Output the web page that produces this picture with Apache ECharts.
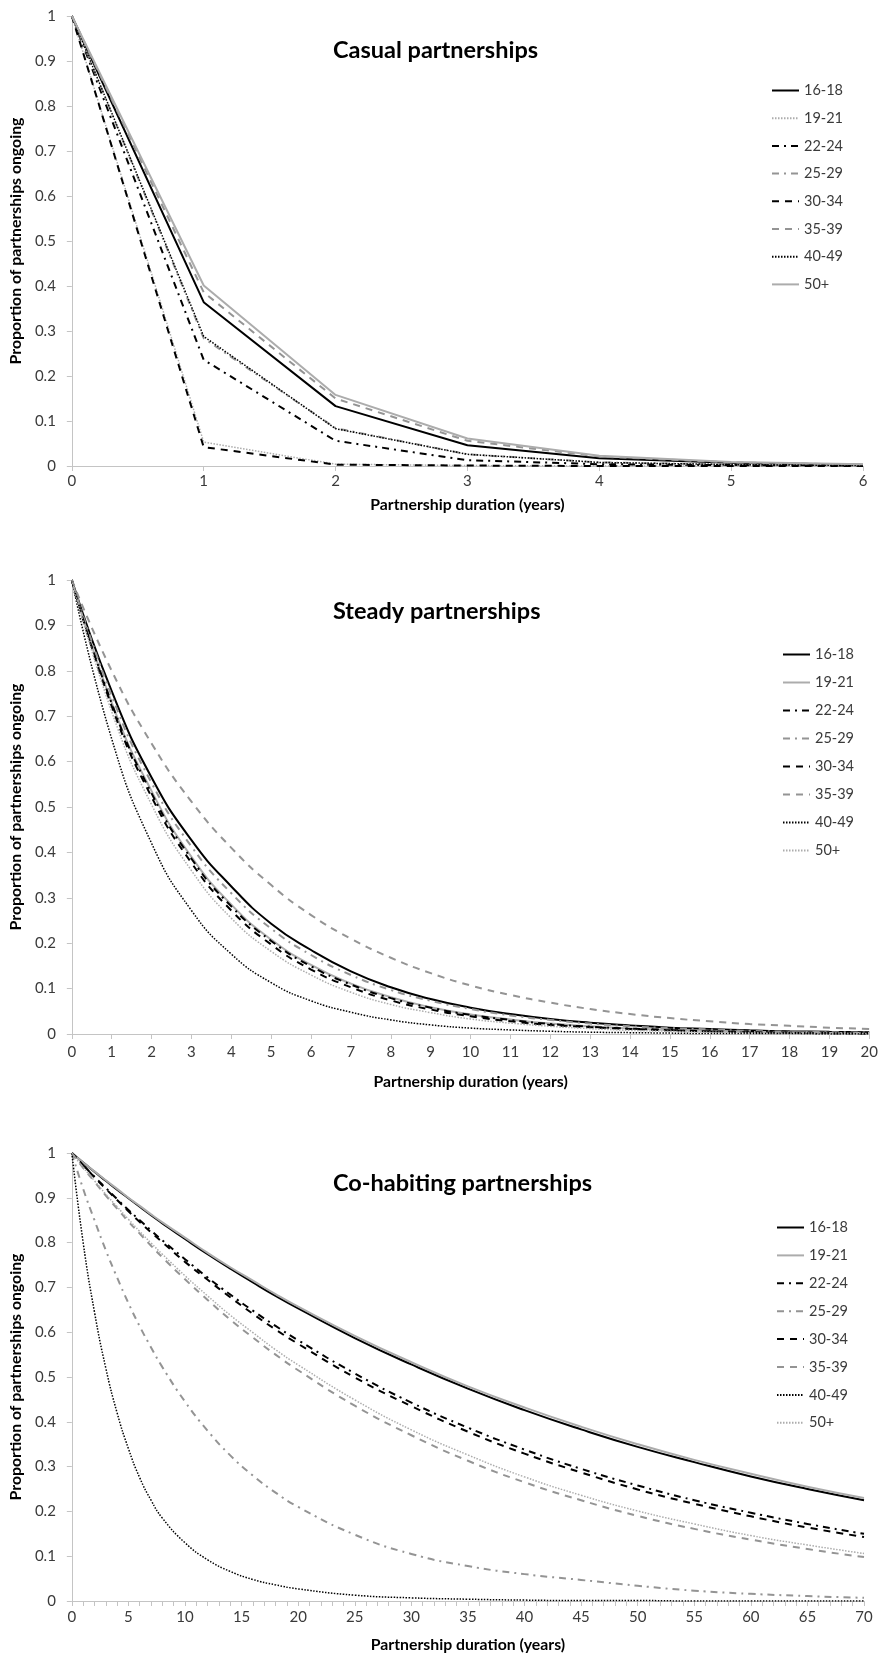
<!DOCTYPE html>
<html>
<head>
<meta charset="utf-8">
<script src="https://cdn.jsdelivr.net/npm/echarts@6/dist/echarts.min.js"></script>
<style>
  html, body { margin: 0; padding: 0; background: #ffffff; }
  #wrap { position: relative; width: 881px; height: 1665px; }
  .panel { position: absolute; left: 0; width: 881px; }
</style>
</head>
<body>
<div id="wrap">
  <div id="casual" class="panel" style="top:0;height:555px"></div>
  <div id="steady" class="panel" style="top:555px;height:575px"></div>
  <div id="cohab" class="panel" style="top:1130px;height:535px"></div>
</div>
<script>
// ---- Data -------------------------------------------------------------
const ageGroups = ['16-18', '19-21', '22-24', '25-29', '30-34', '35-39', '40-49', '50+'];

// Casual partnerships: proportion still ongoing at each whole year
const casualYears = [0, 1, 2, 3, 4, 5, 6];
const casual_16_18 = [1, 0.364, 0.133, 0.046, 0.017, 0.007, 0.003];
const casual_19_21 = [1, 0.053, 0.004, 0.001, 0, 0, 0];
const casual_22_24 = [1, 0.236, 0.056, 0.013, 0.004, 0.002, 0.001];
const casual_25_29 = [1, 0.284, 0.084, 0.026, 0.008, 0.003, 0.001];
const casual_30_34 = [1, 0.042, 0.003, 0.001, 0, 0, 0];
const casual_35_39 = [1, 0.386, 0.150, 0.056, 0.021, 0.008, 0.003];
const casual_40_49 = [1, 0.288, 0.083, 0.026, 0.008, 0.003, 0.001];
const casual_50p   = [1, 0.401, 0.158, 0.061, 0.023, 0.009, 0.004];

// Steady partnerships
const steadyYears = [0, 1, 2, 3, 4, 5, 6, 7, 8, 9, 10, 11, 12, 13, 14, 15, 16, 17, 18, 19, 20];
const steady_16_18 = [1, 0.755, 0.565, 0.427, 0.325, 0.243, 0.185, 0.138, 0.103, 0.077, 0.058, 0.044, 0.033, 0.025, 0.019, 0.014, 0.011, 0.008, 0.006, 0.005, 0.004];
const steady_19_21 = [1, 0.730, 0.535, 0.390, 0.285, 0.208, 0.152, 0.111, 0.081, 0.059, 0.043, 0.032, 0.023, 0.017, 0.012, 0.009, 0.007, 0.005, 0.004, 0.003, 0.002];
const steady_22_24 = [1, 0.728, 0.530, 0.386, 0.281, 0.205, 0.149, 0.109, 0.079, 0.058, 0.042, 0.031, 0.022, 0.016, 0.012, 0.009, 0.006, 0.005, 0.003, 0.002, 0.002];
const steady_25_29 = [1, 0.745, 0.553, 0.413, 0.310, 0.232, 0.174, 0.130, 0.097, 0.073, 0.055, 0.041, 0.031, 0.023, 0.017, 0.013, 0.010, 0.007, 0.005, 0.004, 0.003];
const steady_30_34 = [1, 0.722, 0.522, 0.377, 0.272, 0.197, 0.142, 0.103, 0.074, 0.054, 0.039, 0.028, 0.020, 0.015, 0.011, 0.008, 0.006, 0.004, 0.003, 0.002, 0.001];
const steady_35_39 = [1, 0.800, 0.640, 0.512, 0.410, 0.328, 0.262, 0.210, 0.168, 0.134, 0.107, 0.086, 0.069, 0.055, 0.044, 0.035, 0.028, 0.022, 0.018, 0.014, 0.011];
const steady_40_49 = [1, 0.650, 0.420, 0.272, 0.176, 0.113, 0.073, 0.048, 0.031, 0.020, 0.013, 0.009, 0.006, 0.004, 0.003, 0.002, 0.001, 0.001, 0.001, 0, 0];
const steady_50p   = [1, 0.710, 0.505, 0.360, 0.255, 0.182, 0.130, 0.092, 0.065, 0.047, 0.033, 0.024, 0.017, 0.012, 0.008, 0.006, 0.004, 0.003, 0.002, 0.002, 0.001];

// Co-habiting partnerships
const cohabYears = [0, 1, 2, 3, 4, 5, 6, 7, 8, 10, 12, 14, 16, 18, 20, 25, 30, 35, 40, 45, 50, 55, 60, 65, 70];
const cohab_16_18 = [1, 0.979, 0.958, 0.938, 0.918, 0.899, 0.880, 0.861, 0.843, 0.808, 0.774, 0.742, 0.711, 0.681, 0.653, 0.587, 0.528, 0.474, 0.426, 0.383, 0.344, 0.310, 0.278, 0.250, 0.225];
const cohab_19_21 = [1, 0.979, 0.959, 0.939, 0.920, 0.900, 0.882, 0.863, 0.845, 0.811, 0.777, 0.745, 0.715, 0.685, 0.657, 0.592, 0.533, 0.479, 0.432, 0.389, 0.350, 0.315, 0.284, 0.255, 0.230];
const cohab_22_24 = [1, 0.973, 0.947, 0.922, 0.897, 0.873, 0.850, 0.827, 0.805, 0.763, 0.722, 0.684, 0.648, 0.614, 0.582, 0.508, 0.443, 0.387, 0.338, 0.295, 0.258, 0.225, 0.197, 0.172, 0.150];
const cohab_25_29 = [1, 0.920, 0.850, 0.783, 0.722, 0.665, 0.613, 0.566, 0.522, 0.445, 0.380, 0.325, 0.280, 0.242, 0.210, 0.148, 0.105, 0.078, 0.060, 0.047, 0.034, 0.023, 0.016, 0.011, 0.007];
const cohab_30_34 = [1, 0.973, 0.946, 0.920, 0.895, 0.870, 0.846, 0.823, 0.801, 0.757, 0.717, 0.678, 0.641, 0.606, 0.574, 0.499, 0.435, 0.378, 0.329, 0.287, 0.249, 0.217, 0.189, 0.164, 0.143];
const cohab_35_39 = [1, 0.967, 0.936, 0.905, 0.876, 0.847, 0.820, 0.793, 0.767, 0.718, 0.672, 0.628, 0.588, 0.550, 0.515, 0.436, 0.370, 0.313, 0.265, 0.225, 0.190, 0.161, 0.137, 0.116, 0.098];
const cohab_40_49 = [1, 0.800, 0.645, 0.520, 0.420, 0.340, 0.275, 0.225, 0.185, 0.130, 0.092, 0.066, 0.048, 0.036, 0.027, 0.013, 0.007, 0.004, 0.002, 0.001, 0.001, 0, 0, 0, 0];
const cohab_50p   = [1, 0.968, 0.938, 0.908, 0.880, 0.852, 0.825, 0.799, 0.774, 0.726, 0.681, 0.638, 0.599, 0.561, 0.527, 0.449, 0.382, 0.326, 0.277, 0.236, 0.201, 0.172, 0.146, 0.125, 0.106];

// Axis tick labels
const proportionTicks = [0, 0.1, 0.2, 0.3, 0.4, 0.5, 0.6, 0.7, 0.8, 0.9, 1];

// ---- Line styles --------------------------------------------------------
const BLACK = '#000000';
const GREY = '#949494';
const LIGHT = '#acacac';
const SOLID = 'solid';
const DASHDOT = [7, 5, 2, 5];
const DASH = [7, 6];
const DOT = [1.5, 1.5];

const styleSolidBlack = { color: BLACK, type: SOLID, width: 2 };
const styleSolidGrey  = { color: LIGHT, type: SOLID, width: 2 };
const styleDotLight   = { color: LIGHT, type: DOT, width: 1.5 };
const styleDashDotBlk = { color: BLACK, type: DASHDOT, width: 2 };
const styleDashDotGry = { color: GREY, type: DASHDOT, width: 2 };
const styleDashBlk    = { color: BLACK, type: DASH, width: 2 };
const styleDashGry    = { color: GREY, type: DASH, width: 2 };
const styleDotBlk     = { color: BLACK, type: DOT, width: 1.5 };

const FONT = 'Lato, "Open Sans", sans-serif';
const AXIS_COLOR = '#c4c4c4';
const TEXT_COLOR = '#3a3a3a';

function pairs(xs, ys) { return xs.map((x, i) => [x, ys[i]]); }

function makeOption(cfg) {
  const series = cfg.values.map((vals, i) => ({
    name: ageGroups[i],
    type: 'line',
    data: pairs(cfg.years, vals),
    showSymbol: false,
    symbol: 'none',
    smooth: cfg.smooth,
    lineStyle: Object.assign({ cap: 'butt' }, cfg.styles[i]),
    itemStyle: { color: cfg.styles[i].color },
    emphasis: { disabled: true }
  }));
  return {
    animation: false,
    backgroundColor: '#ffffff',
    title: {
      text: cfg.title,
      left: cfg.titleLeft,
      top: cfg.titleTop,
      padding: 0,
      textStyle: { fontFamily: FONT, fontWeight: 'bold', fontSize: 23.5, color: '#000000', lineHeight: 26 }
    },
    legend: {
      orient: 'vertical',
      left: cfg.legendLeft,
      top: cfg.legendTop,
      padding: 0,
      itemWidth: 27,
      itemHeight: 14,
      itemGap: cfg.legendGap,
      data: ageGroups,
      selectedMode: false,
      // only the line sample is drawn for each entry
      itemStyle: { opacity: 0, borderWidth: 0 },
      textStyle: { fontFamily: FONT, fontSize: 14.5, color: TEXT_COLOR, lineHeight: 14 }
    },
    grid: cfg.grid,
    xAxis: {
      type: 'value',
      min: 0,
      max: cfg.xMax,
      interval: cfg.xInterval,
      name: 'Partnership duration (years)',
      nameLocation: 'middle',
      nameGap: cfg.xNameGap,
      nameTextStyle: { fontFamily: FONT, fontWeight: 'bold', fontSize: 15.8, color: '#000000' },
      axisLine: { show: true, onZero: false, lineStyle: { color: AXIS_COLOR, width: 1 } },
      axisTick: { show: true, length: 5, lineStyle: { color: AXIS_COLOR, width: 1 } },
      minorTick: cfg.minorTicks
        ? { show: true, splitNumber: cfg.minorTicks, length: 5, lineStyle: { color: AXIS_COLOR, width: 1 } }
        : { show: false },
      axisLabel: { fontFamily: FONT, fontSize: 15, color: TEXT_COLOR, margin: cfg.xLabelMargin },
      splitLine: { show: false },
      minorSplitLine: { show: false }
    },
    yAxis: {
      type: 'value',
      min: proportionTicks[0],
      max: proportionTicks[proportionTicks.length - 1],
      interval: proportionTicks[1] - proportionTicks[0],
      name: 'Proportion of partnerships ongoing',
      nameLocation: 'middle',
      nameGap: 40,
      nameRotate: 90,
      nameTextStyle: { fontFamily: FONT, fontWeight: 'bold', fontSize: 15.8, color: '#000000' },
      axisLine: { show: true, lineStyle: { color: AXIS_COLOR, width: 1 } },
      axisTick: { show: true, length: 5, lineStyle: { color: AXIS_COLOR, width: 1 } },
      axisLabel: { fontFamily: FONT, fontSize: 15, color: TEXT_COLOR, margin: 16 },
      splitLine: { show: false }
    },
    series: series
  };
}

const panels = [
  {
    el: 'casual',
    title: 'Casual partnerships',
    titleLeft: 333, titleTop: 37,
    legendLeft: 771, legendTop: 83, legendGap: 12.7,
    grid: { left: 69, right: 18, top: 16, bottom: 89 },
    years: casualYears, xMax: 6, xInterval: 1, xNameGap: 31, xLabelMargin: 8,
    smooth: false,
    values: [casual_16_18, casual_19_21, casual_22_24, casual_25_29, casual_30_34, casual_35_39, casual_40_49, casual_50p],
    styles: [styleSolidBlack, styleDotLight, styleDashDotBlk, styleDashDotGry, styleDashBlk, styleDashGry, styleDotBlk, styleSolidGrey]
  },
  {
    el: 'steady',
    title: 'Steady partnerships',
    titleLeft: 333, titleTop: 43,
    legendLeft: 782, legendTop: 92, legendGap: 13,
    grid: { left: 58, right: 10, top: 25, bottom: 96 },
    years: steadyYears, xMax: 20, xInterval: 1, xNameGap: 40, xLabelMargin: 11,
    smooth: 0.5,
    values: [steady_16_18, steady_19_21, steady_22_24, steady_25_29, steady_30_34, steady_35_39, steady_40_49, steady_50p],
    styles: [styleSolidBlack, styleSolidGrey, styleDashDotBlk, styleDashDotGry, styleDashBlk, styleDashGry, styleDotBlk, styleDotLight]
  },
  {
    el: 'cohab',
    title: 'Co-habiting partnerships',
    titleLeft: 333, titleTop: 40,
    legendLeft: 776, legendTop: 90, legendGap: 12.9,
    grid: { left: 67, right: 17, top: 23, bottom: 64 },
    years: cohabYears, xMax: 70, xInterval: 5, xNameGap: 36, xLabelMargin: 9, minorTicks: 5,
    smooth: 0.5,
    values: [cohab_16_18, cohab_19_21, cohab_22_24, cohab_25_29, cohab_30_34, cohab_35_39, cohab_40_49, cohab_50p],
    styles: [styleSolidBlack, styleSolidGrey, styleDashDotBlk, styleDashDotGry, styleDashBlk, styleDashGry, styleDotBlk, styleDotLight]
  }
];

panels.forEach(cfg => {
  const chart = echarts.init(document.getElementById(cfg.el), null, { renderer: 'canvas' });
  chart.setOption(makeOption(cfg));
});
</script>
</body>
</html>
